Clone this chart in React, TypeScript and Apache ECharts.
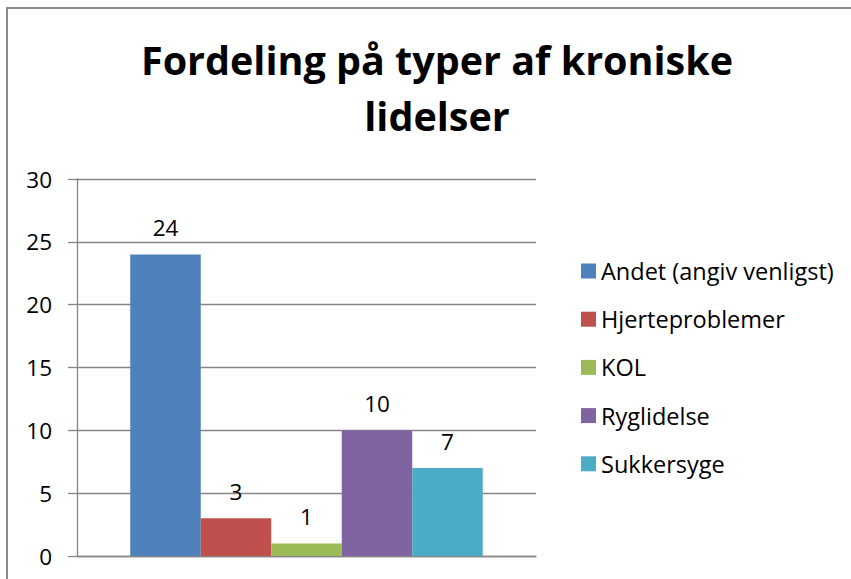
import React, { useEffect, useRef } from "react";
import * as echarts from "echarts";

const categories = [""];
const seriesNames = ["Andet (angiv venligst)", "Hjerteproblemer", "KOL", "Ryglidelse", "Sukkersyge"];
const seriesValues = [24, 3, 1, 10, 7];
const seriesColors = ["#4F81BD", "#C0504D", "#9BBB59", "#8064A2", "#4BACC6"];
const titleText = "Fordeling på typer af kroniske\nlidelser";

export default function App() {
  const ref = useRef<HTMLDivElement>(null);
  useEffect(() => {
    if (!ref.current) return;
    const chart = echarts.init(ref.current, undefined, { renderer: "svg" });
    const font = "'Open Sans', sans-serif";
    chart.setOption({
      animation: false,
      backgroundColor: "#ffffff",
      title: {
        text: titleText,
        left: 432,
        top: 27,
        textAlign: "center",
        textStyle: {
          fontFamily: font,
          fontWeight: "bold",
          fontSize: 39.5,
          lineHeight: 56,
          color: "#000000",
        },
      },
      graphic: [
        {
          type: "rect",
          shape: { x: 7, y: 8, width: 900, height: 700 },
          style: { fill: "none", stroke: "#8c8c8c", lineWidth: 2 },
          silent: true,
        },
      ],
      legend: {
        orient: "vertical",
        left: 576,
        top: 254,
        itemWidth: 15,
        itemHeight: 15,
        itemGap: 24.2,
        icon: "rect",
        textStyle: { fontFamily: font, fontSize: 23.5, color: "#000000", padding: [0, 0, 0, 0] },
        data: seriesNames,
      },
      grid: { left: 77, top: 179, right: 315, bottom: 23, containLabel: false },
      xAxis: {
        type: "category",
        data: categories,
        axisLine: { show: true, lineStyle: { color: "#868686", width: 1.3 } },
        axisTick: { show: false },
        axisLabel: { show: false },
      },
      yAxis: {
        type: "value",
        min: 0,
        max: 30,
        interval: 5,
        axisLine: { show: true, lineStyle: { color: "#868686", width: 1.3 } },
        axisTick: { show: true, length: 9, lineStyle: { color: "#868686", width: 1.3 } },
        splitLine: { show: true, lineStyle: { color: "#868686", width: 1.3 } },
        axisLabel: { fontFamily: font, fontSize: 22.5, color: "#000000", margin: 25 },
      },
      series: seriesNames.map((name, i) => ({
        name,
        type: "bar",
        barWidth: 70.5,
        barGap: "0%",
        data: [seriesValues[i]],
        itemStyle: { color: seriesColors[i] },
        label: {
          show: true,
          position: "top",
          distance: 15,
          fontFamily: font,
          fontSize: 22.5,
          color: "#000000",
        },
      })),
    });
    return () => chart.dispose();
  }, []);
  return <div ref={ref} style={{ width: 851, height: 579, position: "absolute", left: 0, top: 0 }} />;
}
